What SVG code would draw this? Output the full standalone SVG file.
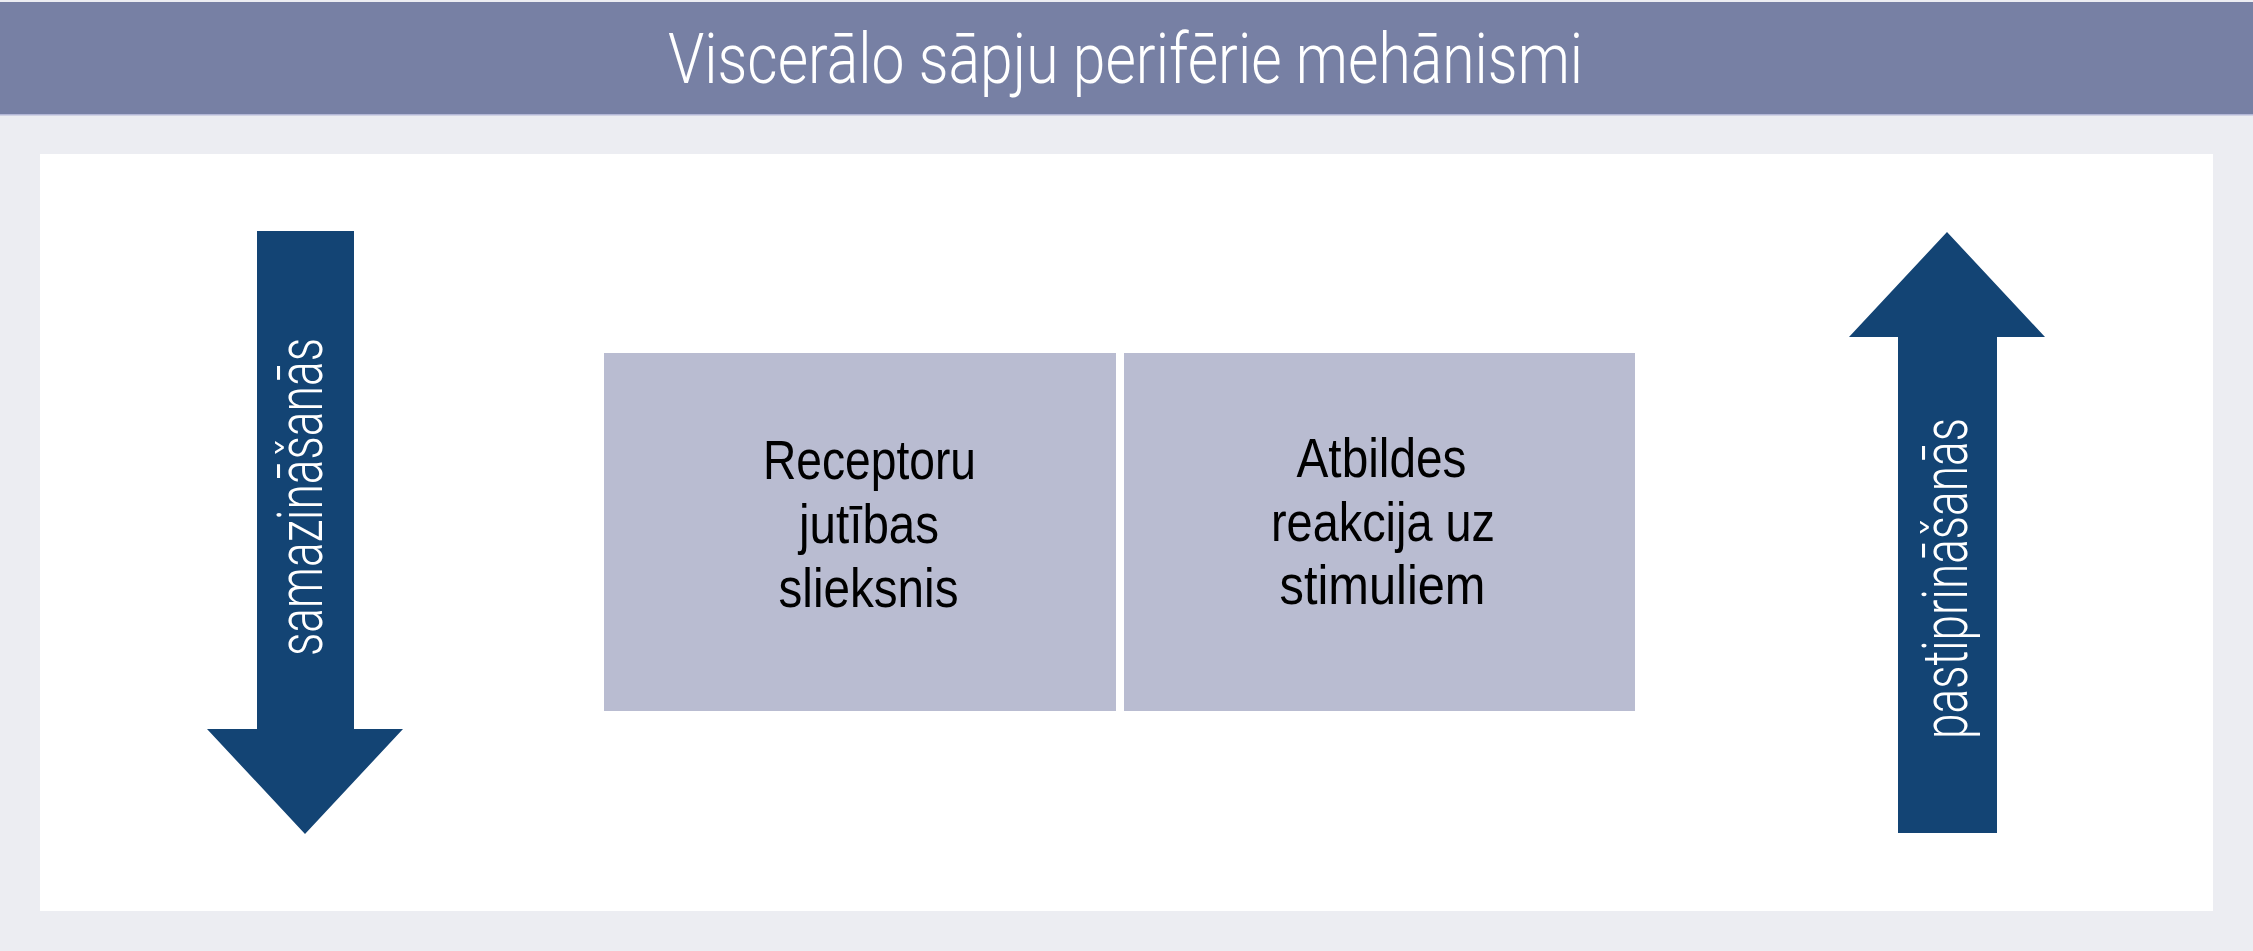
<svg xmlns="http://www.w3.org/2000/svg" width="2253" height="951" viewBox="0 0 2253 951">
  <style>
    .title { font-family: Roboto, "Liberation Sans", sans-serif; font-weight: 300; font-size: 70px; fill: #ffffff; }
    .box { fill: #B9BCD1; }
    .boxtxt { font-family: "Liberation Sans", Arial, sans-serif; font-size: 56px; fill: #000000; text-anchor: middle; }
    .arrow { fill: #134474; }
    .arrowtxt { font-family: Roboto, "Liberation Sans", sans-serif; font-weight: 300; font-size: 63px; fill: #ffffff; text-anchor: middle; }
  </style>
  <rect x="0" y="0" width="2253" height="951" fill="#ECEDF2"/>
  <g id="header">
    <rect x="0" y="2" width="2253" height="112" fill="#7780A4"/>
    <rect x="0" y="114" width="2253" height="1.5" fill="#B3B7D6"/>
    <text class="title" x="668" y="83" textLength="915" lengthAdjust="spacingAndGlyphs">Viscerālo sāpju perifērie mehānismi</text>
  </g>
  <rect id="panel" x="40" y="154" width="2173" height="757" fill="#FFFFFF"/>
  <g id="connectors"></g>
  <g id="arrow-down">
    <path class="arrow" d="M257,231 H354 V729 H403 L305,834 L207,729 H257 Z"/>
    <text class="arrowtxt" transform="translate(322,497) rotate(-90)" x="0" y="0" textLength="318" lengthAdjust="spacingAndGlyphs">samazināšanās</text>
  </g>
  <g id="arrow-up">
    <path class="arrow" d="M1947,232 L2045,337 H1997 V833 H1898 V337 H1849 Z"/>
    <text class="arrowtxt" transform="translate(1967,578.5) rotate(-90)" x="0" y="0" textLength="321" lengthAdjust="spacingAndGlyphs">pastiprināšanās</text>
  </g>
  <g id="box-receptoru">
    <rect class="box" x="604" y="353" width="512" height="358"/>
    <text class="boxtxt" x="869.5" y="479" textLength="213" lengthAdjust="spacingAndGlyphs">Receptoru</text>
    <text class="boxtxt" x="869" y="543" textLength="140" lengthAdjust="spacingAndGlyphs">jutības</text>
    <text class="boxtxt" x="868.5" y="607" textLength="180" lengthAdjust="spacingAndGlyphs">slieksnis</text>
  </g>
  <g id="box-atbildes">
    <rect class="box" x="1124" y="353" width="511" height="358"/>
    <text class="boxtxt" x="1381.5" y="477" textLength="170" lengthAdjust="spacingAndGlyphs">Atbildes</text>
    <text class="boxtxt" x="1383" y="541" textLength="224" lengthAdjust="spacingAndGlyphs">reakcija uz</text>
    <text class="boxtxt" x="1382.5" y="604" textLength="206" lengthAdjust="spacingAndGlyphs">stimuliem</text>
  </g>
</svg>
